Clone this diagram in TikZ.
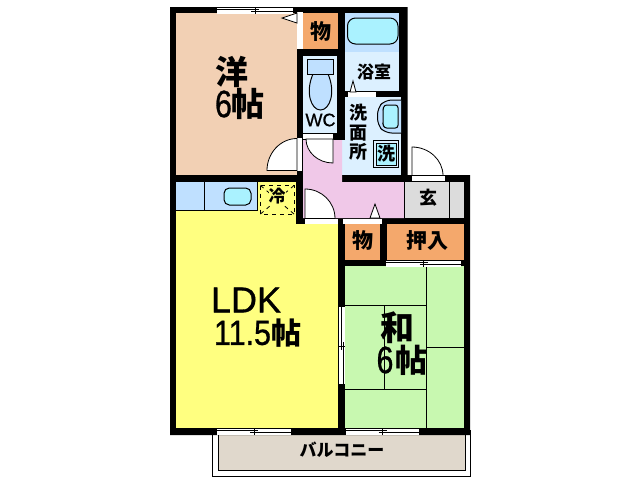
\documentclass[tikz,border=0pt]{standalone}
\usepackage{fontspec}
\setmainfont{Liberation Sans}
\newfontfamily\jp{Noto Sans CJK JP}
\newfontfamily\heavy[FakeBold=0.9]{Liberation Sans}
\newcommand{\fs}[1]{\fontsize{\dimexpr#1pt*3/4\relax}{\dimexpr#1pt*3/4\relax}\selectfont}
\definecolor{peach}{HTML}{F2D0B4}
\definecolor{closet}{HTML}{F4A86C}
\definecolor{bluea}{HTML}{BFE0FF}
\definecolor{tub}{HTML}{AAF2FF}
\definecolor{pale}{HTML}{DCF0FF}
\definecolor{pinkf}{HTML}{F0C8E8}
\definecolor{grayf}{HTML}{DCDCDC}
\definecolor{lime}{HTML}{C8F8B0}
\definecolor{yel}{HTML}{FFFF80}
\definecolor{balc}{HTML}{E0D8CC}
\tikzset{
  room/.style={fill=#1,draw=none},
  thinl/.style={draw=black,line width=0.75pt},
  doorleaf/.style={fill=white,draw=black,line width=0.6pt},
  whitestrip/.style={fill=white,draw=none},
  lbl/.style={inner sep=0pt,text=black},
  jl/.style={lbl,font=\jp\bfseries\fs{#1}},
  ll/.style={lbl,font=\heavy\fs{#1}},
  narrow/.style={xscale=#1,transform shape},
}
\begin{document}
\begin{tikzpicture}[x=0.75pt,y=-0.75pt]
\useasboundingbox (0,0) rectangle (640,480);
\fill[white] (0,0) rectangle (640,480);
% balcony
\draw[fill=white,line width=0.75pt] (212.5,430) rectangle (470.5,476.5);
\draw[fill=balc,line width=0.75pt] (218,430) rectangle (465,470);
% walls
\fill[black] (170,7) -- (407.5,7) -- (407.5,175) -- (470,175) -- (470,435) -- (170,435) -- cycle;
% rooms
\fill[room=peach] (176,13) rectangle (297,175);
\fill[room=closet] (303,13) rectangle (338,49);
\fill[room=bluea] (345,13) rectangle (399,52);
\fill[room=pale] (345,52) rectangle (399,91);
\fill[room=pale] (303,56) rectangle (337,133);
\fill[room=pale] (345,97) rectangle (401,140);
\fill[room=pale] (342,140) rectangle (401,175);
\fill[room=pinkf] (303,140) -- (342,140) -- (342,182) -- (404,182) -- (404,218) -- (303,218) -- cycle;
\fill[room=grayf] (404,182) rectangle (464,218);
\draw[thinl] (404,182) -- (404,218);
\draw[thinl] (449.5,182) -- (449.5,218);
\fill[room=yel] (176,182) rectangle (296,224);
\fill[room=yel] (176,224) rectangle (338,428);
\fill[room=bluea] (176,182) rectangle (257,210);
\draw[thinl] (257,182) -- (257,210) -- (176,210);
\draw[thinl] (204.5,182) -- (204.5,210);
\draw[fill=tub,line width=0.75pt,rounded corners=4pt] (224,188) rectangle (251,205);
\fill[room=closet] (345,224) rectangle (380,260);
\fill[room=closet] (387,224) rectangle (464,260);
\fill[room=lime] (345,266) rectangle (464,428);
% tatami
\draw[thinl] (426,266) -- (426,428);
\draw[thinl] (345,305) -- (426,305);
\draw[thinl] (384,305) -- (384,389);
\draw[thinl] (345,389) -- (426,389);
\draw[thinl] (426,347) -- (464,347);
% windows
\foreach \a/\b/\yy in {217/293/7,217/291/428,346/419/428,386/461/260}{
  \fill[whitestrip] (\a,\yy+1) rectangle (\b,\yy+6.5);
  \draw[line width=0.6pt] (\a,\yy+2.5) -- ({(\a+\b)/2+4},\yy+2.5);
  \draw[line width=0.6pt] ({(\a+\b)/2-4},\yy+4.5) -- (\b,\yy+4.5);
  \draw[line width=0.6pt] ({(\a+\b)/2},\yy+1) -- ({(\a+\b)/2},\yy+6.5);
}
\fill[whitestrip] (339,307) rectangle (344.5,384);
\draw[line width=0.6pt] (341,307) -- (341,350);
\draw[line width=0.6pt] (343,342) -- (343,384);
\draw[line width=0.6pt] (339,346) -- (344.5,346);
% doors and strips
\fill[whitestrip] (297,12) rectangle (303,49);
\draw[doorleaf] (297,13) -- (282,18) -- (297,23) -- cycle;
\fill[whitestrip] (348,92) rectangle (376,97);
\draw[doorleaf] (350,92) -- (353,81) -- (356,92) -- cycle;
\fill[whitestrip] (297,138) rectangle (302,171);
\draw[doorleaf] (297,138.5) .. controls (280.5,138.5) and (267,153) .. (267,170.5) -- (297,170.5) -- cycle;
\fill[whitestrip] (303,134) rectangle (333,139);
\draw[doorleaf] (333,139) -- (306,139) .. controls (306,152) and (318,163) .. (333,163) -- cycle;
\fill[whitestrip] (305,219) rectangle (338,224);
\draw[doorleaf] (305,218.5) -- (305,189) .. controls (321.5,189) and (335,202) .. (335,218.5) -- cycle;
\fill[whitestrip] (343,219) rectangle (382,223.5);
\fill[whitestrip] (412,176) rectangle (445,181);
\draw[doorleaf] (412,175.5) -- (412,147) .. controls (429,147) and (443,160) .. (443,175.5) -- cycle;
\draw[doorleaf] (370,218) -- (375,204) -- (380,218) -- cycle;
% fixtures
\draw[fill=tub,line width=0.75pt,rounded corners=6pt] (347.5,18) rectangle (398,44);
\draw[fill=bluea,line width=0.75pt] (313,74) .. controls (305,92) and (311,110) .. (320.5,110) .. controls (330,110) and (336,92) .. (328,74);
\draw[fill=bluea,line width=0.75pt] (307.5,59.5) rectangle (333.5,74);
\draw[fill=bluea,line width=0.75pt,rounded corners=5pt] (401,100) -- (385,100) -- (377.5,108) -- (377.5,125) -- (385,133) -- (401,133);
\draw[fill=tub,line width=0.75pt,rounded corners=2pt] (398,105) -- (384,105) -- (383,110) -- (383,124) -- (384,128) -- (398,128) -- cycle;
\draw[fill=pale,line width=0.75pt] (373.5,140.5) rectangle (398.5,167.5);
\draw[fill=tub,line width=0.75pt] (376,143) rectangle (396,165);
% fridge
\draw[dashed,line width=0.75pt] (260.5,185.5) rectangle (294,214);
\draw[dashed,line width=0.6pt] (260.5,185.5) -- (294,214);
\draw[dashed,line width=0.6pt] (294,185.5) -- (260.5,214);
% labels
\node[jl=33] (yo) at (232,72) {洋};
\node[jl=33] (yoj) at (248,104) {帖};
\node[ll=38,narrow=0.8] (yo6) at (223.5,104) {6};
\node[jl=21] (mono1) at (321,32) {物};
\node[jl=17] (yoku) at (374,72) {浴室};
\node[ll=18] (wc) at (320.5,120) {WC};
\node[jl=18] (s1) at (358.5,113) {洗};
\node[jl=18] (s2) at (358.5,133) {面};
\node[jl=18] (s3) at (358.5,152) {所};
\node[jl=18] (s4) at (386,154) {洗};
\node[jl=18] (gen) at (428,198) {玄};
\node[jl=17,fill=yel] (rei) at (277,196) {冷};
\node[jl=21] (mono2) at (363,241) {物};
\node[jl=21] (oshi) at (427,241) {押入};
\node[ll=36] (ldk) at (246,300) {LDK};
\node[ll=35,narrow=0.87] (ldkn) at (242.5,333) {11.5};
\node[jl=30] (ldkj) at (286.5,333) {帖};
\node[jl=34] (wa) at (397,328) {和};
\node[ll=38,narrow=0.8] (wa6) at (385,360) {6};
\node[jl=32] (waj) at (411,360) {帖};
\node[jl=17] (bal) at (342,450) {バルコニー};
\end{tikzpicture}
\end{document}
